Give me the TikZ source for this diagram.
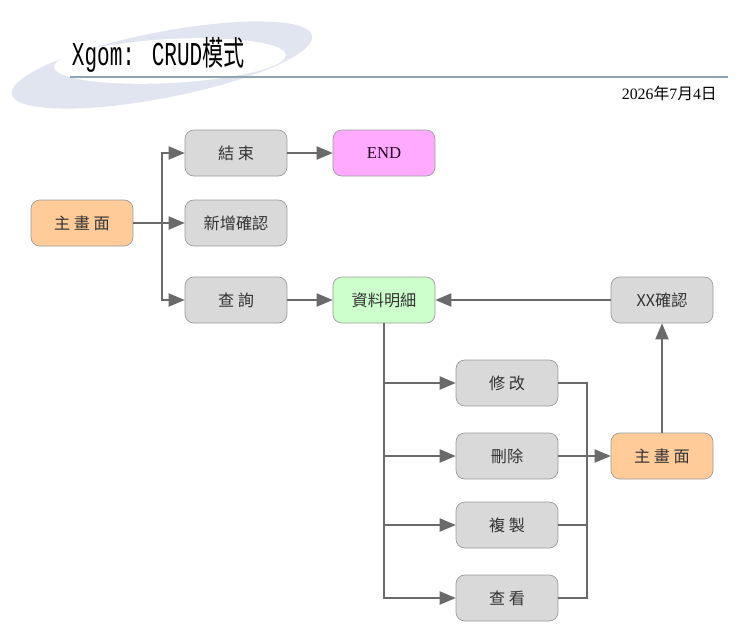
\documentclass[tikz,border=0pt]{standalone}
\usepackage{fontspec}
\setmainfont{Liberation Serif}
\newfontfamily\cjk{Noto Sans CJK TC}
\newfontfamily\titlefont{Liberation Mono}
\usepackage{tikz}
\usetikzlibrary{arrows}
\usetikzlibrary{shapes,positioning,calc}
\definecolor{boxgray}{HTML}{D9D9D9}
\definecolor{boxline}{HTML}{9A9A9A}
\definecolor{linkgray}{HTML}{6A6A6A}
\definecolor{mainorange}{HTML}{FFCC99}
\definecolor{endpink}{HTML}{FFAAFF}
\definecolor{detailgreen}{HTML}{CCFFCC}
\definecolor{swoosh}{HTML}{E0E5EF}
\definecolor{rulecol}{HTML}{8FA3B3}
\tikzstyle{box} = [rectangle, rounded corners=5pt, minimum width=2.04cm, minimum height=0.92cm, text centered, draw=boxline, fill=boxgray, text=black!80, font=\cjk\fontsize{9.2}{11}\selectfont]
\tikzstyle{link} = [draw=linkgray, line width=1.1pt]
\tikzstyle{arr} = [link, -triangle 45]

\begin{document}
\begin{tikzpicture}[x=0.02cm, y=-0.02cm]
				\useasboundingbox (0,0) rectangle (740,640);
				% header
				\fill[swoosh, rotate around={11:(162,65)}] (162,65) ellipse (153 and 33);
				\fill[white, rotate around={3:(170,61)}] (170,61) ellipse (116 and 22);
				\node[font=\titlefont\fontsize{19}{21}\selectfont, xscale=0.63, transform shape, anchor=west] (title) at (68,55) {Xgom: CRUD{\cjk 模式}};
				\draw[rulecol, line width=0.6pt] (70,77) -- (728,77);
				\node[font=\fontsize{9}{10}\selectfont, anchor=east] (date) at (723,93) {2026{\cjk 年}7{\cjk 月}4{\cjk 日}};
				
				% left part
				\node[box, fill=mainorange] (main1) at (82,223) {主 畫 面};
				\node[box] (quit) at (236,153) {結 束};
				\node[box] (add) at (236,223) {新增確認};
				\node[box] (query) at (236,300) {查 詢};
				\node[box, fill=endpink, text=black!75!violet, font=\fontsize{9.5}{11}\selectfont] (finish) at (384,153) {END};
				\node[box, fill=detailgreen] (detail) at (384,300) {資料明細};
				\node[box] (confirm) at (662,300) {XX確認};
				
				% right part
				\node[box] (edit) at (507,383) {修 改};
				\node[box] (del) at (507,456) {刪除};
				\node[box] (copy) at (507,525) {複 製};
				\node[box] (view) at (507,598) {查 看};
				\node[box, fill=mainorange] (main2) at (662,456) {主 畫 面};
				
				\coordinate (j1) at (162,223);
				\coordinate (j2) at (587,456);
				
				\draw[link] (main1) -- (j1);
				\draw[arr] (j1) |- (quit);
				\draw[arr] (j1) -- (add);
				\draw[arr] (j1) |- (query);
				\draw[arr] (quit) -- (finish);
				\draw[arr] (query) -- (detail);
				\draw[arr] (confirm) -- (detail);
				
				\draw[arr] (detail.south) |- (edit);
				\draw[arr] (detail.south) |- (del);
				\draw[arr] (detail.south) |- (copy);
				\draw[arr] (detail.south) |- (view);
				
				\draw[link] (edit.east) -| (j2);
				\draw[link] (copy.east) -| (j2);
				\draw[link] (view.east) -| (j2);
				\draw[arr] (del) -- (main2);
				\draw[arr] (main2) -- (confirm);
			\end{tikzpicture}
\end{document}
